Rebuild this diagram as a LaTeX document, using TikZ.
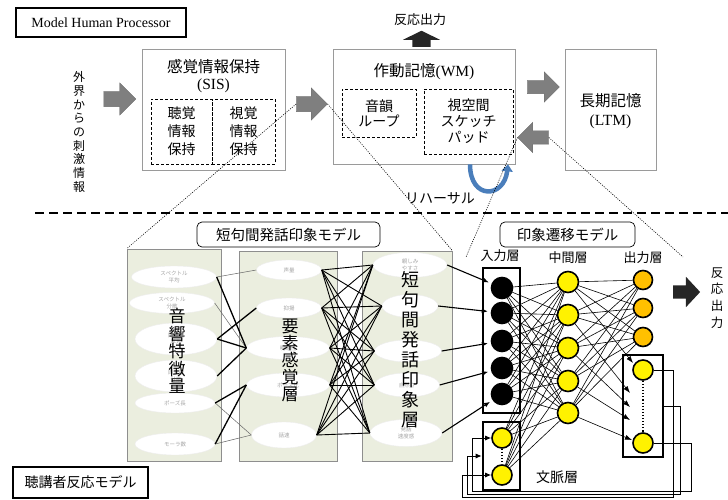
\documentclass[tikz,border=0pt]{standalone}
\usepackage{fontspec}
\setmainfont{Liberation Serif}
\newfontfamily\jpfont{Noto Sans CJK JP}
\usetikzlibrary{shapes.geometric,shapes.arrows,arrows.meta}

\definecolor{panelgreen}{HTML}{EBEEDF}
\definecolor{panelline}{HTML}{8E8E8E}
\definecolor{boxgray}{HTML}{9A9A9A}
\definecolor{arrowgray}{HTML}{7F7F7F}
\definecolor{featgray}{HTML}{A6A6A6}
\definecolor{rehblue}{HTML}{4A7EBB}
\definecolor{outorange}{HTML}{FFC000}

\newcommand{\fsize}[2]{\fontsize{#1}{#2}\selectfont}

\tikzset{
  membox/.style={draw=boxgray, line width=0.7pt},
  subbox/.style={draw, dash pattern=on 3pt off 2pt, line width=0.9pt, align=center, font=\jpfont\fsize{14}{18}},
  framebox/.style={draw, line width=1.1pt},
  modelbox/.style={draw, line width=0.7pt, rounded corners=5pt, font=\jpfont\fsize{14.5}{16}},
  grayarrow/.style={single arrow, fill=arrowgray, draw=arrowgray!85!black, line width=0.3pt, inner xsep=0pt, single arrow head extend=8.5pt},
  blackarrow/.style={single arrow, fill=black!85, inner xsep=0pt},
  panel/.style={draw=panelline, fill=panelgreen, line width=0.7pt},
  feat/.style={ellipse, fill=white, draw=black!7, inner sep=0pt, align=center, text=featgray, font=\jpfont\fsize{5.5}{7}},
  thinlink/.style={draw=black!60, line width=0.5pt},
  thicklink/.style={line width=1.3pt},
  link/.style={line width=0.9pt},
  feed/.style={line width=1.1pt, -{Latex[length=6pt,width=5pt]}, shorten >=3pt},
  syn/.style={line width=0.6pt},
  neuron/.style={circle, draw, line width=1.6pt, minimum size=21pt, inner sep=0pt},
  layerbox/.style={draw, line width=2.6pt},
  fb/.style={line width=0.9pt, -{Latex[length=6pt,width=5pt]}},
  proj/.style={dash pattern=on 1pt off 1.3pt, line width=0.6pt},
  jp/.style={font=\jpfont\fsize{#1}{#1}}
}

\begin{document}
\begin{tikzpicture}[x=1pt, y=-1pt]
\useasboundingbox (0,0) rectangle (728,500);

% Model Human Processor
\node[framebox, minimum width=170, minimum height=29, font=\fsize{14}{16}] (mhp) at (101,22.5) {Model Human Processor};
\node[font=\jpfont\fsize{12}{13.7}, align=center] (stim) at (79,132) {外\\界\\か\\ら\\の\\刺\\激\\情\\報};
\node[grayarrow, minimum height=32, inner ysep=7.5pt] (a1) at (116,99) {};

\node[membox, minimum width=143, minimum height=121] (sis) at (213.5,109.5) {};
\node[jp=15.5] (sistitle) at (213.5,67) {感覚情報保持};
\node[font=\fsize{15.5}{16}] (sisabbr) at (213.5,86) {(SIS)};
\node[subbox, minimum width=61, minimum height=65] (aud) at (181.5,131.5) {聴覚\\情報\\保持};
\node[subbox, minimum width=63, minimum height=65] (vis) at (243.5,131.5) {視覚\\情報\\保持};

\node[grayarrow, minimum height=31, inner ysep=7.5pt] (a2) at (308,104) {};

\node[membox, minimum width=182, minimum height=115] (wm) at (424,106.5) {};
\node[font=\fsize{15.5}{16}] (wmtitle) at (424,72) {{\jpfont 作動記憶}(WM)};
\node[subbox, minimum width=74, minimum height=48, font=\jpfont\fsize{14}{15}] (loop) at (379,113) {音韻\\ループ};
\node[subbox, minimum width=89, minimum height=65, font=\jpfont\fsize{14}{16}] (pad) at (468.5,121.5) {視空間\\スケッチ\\パッド};

\node[jp=13] (resp) at (420,20) {反応出力};
\node[blackarrow, minimum height=16, inner ysep=9pt, single arrow head extend=9.5pt, single arrow tip angle=128, rotate=90] (aup) at (421.5,41) {};

\node[grayarrow, minimum height=32, inner ysep=6.5pt] (a3) at (540,87) {};
\node[grayarrow, minimum height=31, inner ysep=6.5pt, shape border rotate=180] (a4) at (536.5,137.5) {};

\node[membox, minimum width=91, minimum height=121] (ltm) at (610.5,109.5) {};
\node[jp=15.5] (ltmtitle) at (610.5,101) {長期記憶};
\node[font=\fsize{15.5}{16}] (ltmabbr) at (610.5,122) {(LTM)};

% rehearsal loop
\draw[rehblue, line width=4.5pt, -{Triangle[length=7pt,width=11pt]}] ([xshift=46]wm.south) .. controls +(0,36) and +(-4,34) .. ([xshift=84]wm.south);
\node[jp=14] (rehearsal) at (440,198) {リハーサル};

\draw[dash pattern=on 9pt off 5pt, line width=1.5pt] (35,213) -- (728,213);

% listener response model
\node[modelbox, minimum width=183, minimum height=25] (ptitle) at (288.5,234.5) {短句間発話印象モデル};
\node[modelbox, minimum width=135, minimum height=25] (ttitle) at (567.5,234.5) {印象遷移モデル};
\node[framebox, minimum width=135, minimum height=31, jp=14] (lmodel) at (80.5,482.5) {聴講者反応モデル};

\node[panel, minimum width=94, minimum height=212] (pan1) at (174,355) {};
\node[panel, minimum width=98, minimum height=210] (pan2) at (288,356) {};
\node[panel, minimum width=90, minimum height=210] (pan3) at (407,356) {};

\node[feat, minimum width=85, minimum height=22] (f1) at (174,277) {スペクトル\\平均};
\node[feat, minimum width=85, minimum height=21] (f2) at (172,303) {スペクトル\\分散};
\node[feat, minimum width=82, minimum height=32] (f3) at (176,339) {周波数\\平均};
\node[feat, minimum width=82, minimum height=32] (f4) at (176,376) {周波数\\分散};
\node[feat, minimum width=80, minimum height=20] (f5) at (175,403) {ポーズ長};
\node[feat, minimum width=80, minimum height=22] (f6) at (175,444) {モーラ数};

\node[feat, minimum width=65, minimum height=20] (g1) at (289,270) {声量};
\node[feat, minimum width=65, minimum height=20] (g2) at (289,308) {抑揚};
\node[feat, minimum width=83, minimum height=23] (g3) at (288,348) {明瞭性};
\node[feat, minimum width=83, minimum height=24] (g4) at (288,385) {ポーズ比};
\node[feat, minimum width=65, minimum height=26] (g5) at (284,435) {話速};

\node[feat, minimum width=74, minimum height=25] (p1) at (410,265) {親しみ\\やすさ};
\node[feat, minimum width=56, minimum height=23] (p2) at (410,306) {};
\node[feat, minimum width=67, minimum height=22] (p3) at (408,351) {};
\node[feat, minimum width=65, minimum height=24] (p4) at (407,385) {自然さ};
\node[feat, minimum width=72, minimum height=27] (p5) at (406,433) {発話\\速度感};

\foreach \s/\t in {f1/g1, f2/g3, f5/g5, f6/g5}
  \draw[thinlink] (\s.east) -- (\t.west);
\foreach \s/\t in {f1/g3, f3/g2, f3/g3, f4/g3, f5/g4, f6/g4}
  \draw[thicklink] (\s.east) -- (\t.west);
\foreach \s in {g1,g2,g3,g4,g5}
  \foreach \t in {p1,p2,p3,p4,p5}
    \draw[link] (\s.east) -- (\t.west);

\node[font=\jpfont\fsize{17}{17.5}, align=center] (acoustic) at (177,351) {音\\響\\特\\徴\\量};
\node[font=\jpfont\fsize{17}{17}, align=center] (element) at (290,360) {要\\素\\感\\覚\\層};
\node[font=\jpfont\fsize{18}{20}, align=center] (impress) at (410,350) {短\\句\\間\\発\\話\\印\\象\\層};

% impression transition network
\node[layerbox, minimum width=37, minimum height=145] (inbox) at (501.5,340.5) {};
\node[layerbox, minimum width=37, minimum height=68] (cxbox) at (501.5,456) {};
\node[layerbox, minimum width=40, minimum height=102] (ocbox) at (643,406) {};

\foreach \y [count=\i] in {288,313,341,368,394}
  \node[neuron, fill=black] (in\i) at (502,\y) {};
\node[neuron, fill=yellow, minimum size=20pt] (cx1) at (502,438) {};
\node[neuron, fill=yellow, minimum size=20pt] (cx2) at (502,475) {};
\foreach \y [count=\i] in {282,315,348,381,413}
  \node[neuron, fill=yellow] (hd\i) at (568,\y) {};
\foreach \y [count=\i] in {280,308,337}
  \node[neuron, fill=outorange, minimum size=19pt] (out\i) at (643,\y) {};
\node[neuron, fill=yellow, minimum size=20pt] (oc1) at (643,370) {};
\node[neuron, fill=yellow, minimum size=20pt] (oc2) at (643,443) {};

\node[jp=13] (inlabel) at (500,256) {入力層};
\node[jp=13] (hdlabel) at (568,258) {中間層};
\node[jp=13] (outlabel) at (643,258) {出力層};
\node[jp=14] (cxlabel) at (557,477) {文脈層};

\foreach \i in {1,...,5}
  \draw[feed] (p\i.east) -- (in\i);

\foreach \i in {1,...,5}
  \foreach \j in {1,...,5}
    \draw[syn] (in\i) -- (hd\j);
\foreach \i in {1,2}
  \foreach \j in {1,...,5}
    \draw[syn] (cx\i) -- (hd\j);
\foreach \i in {1,...,5}
  \foreach \j in {1,2,3}
    \draw[syn] (hd\i) -- (out\j);

\coordinate (ock1) at (633,363);
\coordinate (ock2) at (630,393);
\coordinate (ock3) at (630,407);
\coordinate (ock4) at (630,420);
\coordinate (ock5) at (632,440);
\foreach \i in {1,...,5}
  \draw[syn, -{Latex[length=7pt,width=5pt]}] (hd\i) -- (ock\i);

\draw[dotted, line width=1.1pt] (cx1) -- (cx2);
\draw[dotted, line width=1.1pt] (oc1) -- (oc2);

% copy back into the context layer
\draw[fb] (oc1.east) -- (673,370) -- (673,497) -- (462,497) |- (cx2.west);
\draw[fb] (ocbox.east) -- (680,406) -- (680,494) -- (467,494) |- (cxbox.west);
\draw[fb] (oc2.east) -- (691,443) -- (691,491) -- (472,491) |- (cx1.west);

\node[blackarrow, minimum height=27, inner ysep=6.5pt, single arrow head extend=8.5pt, single arrow tip angle=94] (aout) at (683.5,292) {};
\node[font=\jpfont\fsize{12.5}{16.7}, align=center] (outresp) at (717,298) {反\\応\\出\\力};

% projection lines
\coordinate (tnw) at (466,257);
\coordinate (tne) at (683,257);
\draw[proj] (a2.tail) -- (pan1.north west);
\draw[proj] (a2.tip) -- (pan3.north east);
\draw[proj] (a4.tip) -- (tnw);
\draw[proj] (a4.tail) -- (tne);
\end{tikzpicture}
\end{document}
